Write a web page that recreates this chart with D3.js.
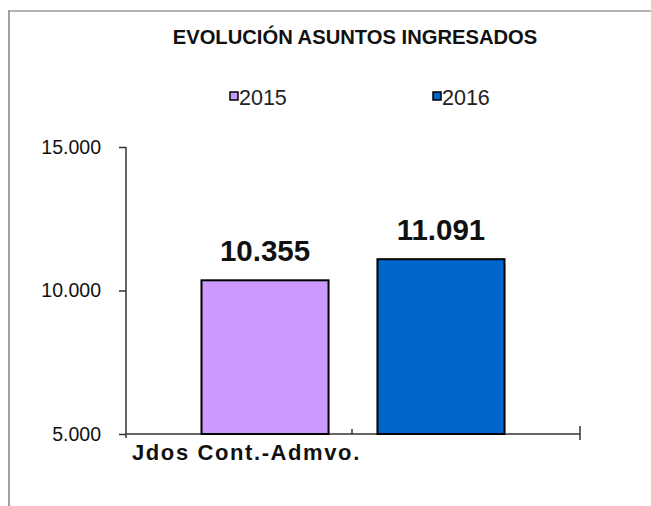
<!DOCTYPE html>
<html>
<head>
<meta charset="utf-8">
<script src="https://cdn.jsdelivr.net/npm/d3@7"></script>
<style>
  body { margin: 0; background: #fff; }
  svg { display: block; font-family: "Liberation Sans", Arial, sans-serif; }
</style>
</head>
<body>
<script>
const width = 651,
  height = 506;

// data
const categories = ["Jdos Cont.-Admvo."];
const years = ["2015", "2016"];
const values2015 = [10355];
const values2016 = [11091];
const yTicks = [5000, 10000, 15000];
const colors = ["#cc99ff", "#0066cc"];

const series = [values2015, values2016];
const fmt = (d) => d3.format(",")(d).replace(/,/g, ".");

const svg = d3
  .select("body")
  .append("svg")
  .attr("width", width)
  .attr("height", height);

// frame
svg.append("line").attr("x1", 8).attr("x2", width).attr("y1", 11).attr("y2", 11)
  .attr("stroke", "#b4b4b4").attr("stroke-width", 2);
svg.append("line").attr("x1", 9).attr("x2", 9).attr("y1", 10).attr("y2", height)
  .attr("stroke", "#a0a0a0").attr("stroke-width", 2);

// title
svg.append("text")
  .attr("x", 355)
  .attr("y", 44)
  .attr("text-anchor", "middle")
  .attr("font-size", 20.2)
  .attr("font-weight", "bold")
  .attr("fill", "#111")
  .text("EVOLUCIÓN ASUNTOS INGRESADOS");

// legend
const legend = svg.append("g").attr("id", "legend");
const legendX = [230, 433];
years.forEach((yr, i) => {
  const g = legend.append("g").attr("transform", `translate(${legendX[i]},92)`);
  g.append("rect").attr("width", 8).attr("height", 8)
    .attr("fill", colors[i]).attr("stroke", "#000").attr("stroke-width", 1.5);
  g.append("text").attr("x", 9).attr("y", 13).attr("font-size", 21.5)
    .attr("fill", "#222").text(yr);
});

// scales
const yScale = d3.scaleLinear().domain([5000, 15000]).range([434, 147]);
const x0 = d3.scaleBand().domain(categories).range([126, 580]);
const x1 = d3.scaleBand().domain(years).range([0, x0.bandwidth()])
  .paddingInner(0.278).paddingOuter(0.429);

// y axis
const axisY = d3.axisLeft(yScale).tickValues(yTicks).tickFormat(fmt)
  .tickSizeOuter(0).tickSize(7).tickPadding(18);
const gy = svg.append("g").attr("id", "y-axis").attr("transform", "translate(126,0)").call(axisY);
gy.select(".domain").attr("stroke", "#333").attr("stroke-width", 1.5)
  .attr("d", `M0,${yScale(15000)}V${yScale(5000) + 4}`);
gy.selectAll(".tick line").attr("stroke", "#333").attr("stroke-width", 1.5);
gy.selectAll(".tick text").attr("font-size", 19.5).attr("fill", "#111")
  .attr("font-family", "Liberation Sans, Arial, sans-serif");

// x axis
const gx = svg.append("g").attr("id", "x-axis");
gx.append("line").attr("x1", 126).attr("x2", 580)
  .attr("y1", yScale(5000)).attr("y2", yScale(5000))
  .attr("stroke", "#333").attr("stroke-width", 1.5);
gx.append("line").attr("x1", 580).attr("x2", 580)
  .attr("y1", yScale(5000) - 8).attr("y2", yScale(5000) + 6)
  .attr("stroke", "#333").attr("stroke-width", 1.5);
const mid = x0(categories[0]) + x0.bandwidth() / 2 - 1;
gx.append("line").attr("x1", mid).attr("x2", mid)
  .attr("y1", yScale(5000) - 5).attr("y2", yScale(5000))
  .attr("stroke", "#333").attr("stroke-width", 1.5);
gx.append("text")
  .attr("x", x0(categories[0]) + 6)
  .attr("y", 460)
  .attr("font-size", 22)
  .attr("font-weight", "bold")
  .attr("letter-spacing", 1.6)
  .attr("fill", "#111")
  .text(categories[0]);

// bars
const bars = svg.append("g").attr("id", "bars");
categories.forEach((cat, ci) => {
  years.forEach((yr, si) => {
    const v = series[si][ci];
    const bx = x0(cat) + x1(yr);
    bars.append("rect")
      .attr("x", bx)
      .attr("y", yScale(v))
      .attr("width", x1.bandwidth())
      .attr("height", yScale(5000) - yScale(v))
      .attr("fill", colors[si])
      .attr("stroke", "#000")
      .attr("stroke-width", 2);
    bars.append("text")
      .attr("x", bx + x1.bandwidth() / 2)
      .attr("y", yScale(v) - 19)
      .attr("text-anchor", "middle")
      .attr("font-size", 29.5)
      .attr("font-weight", "bold")
      .attr("fill", "#111")
      .text(fmt(v));
  });
});
</script>
</body>
</html>
